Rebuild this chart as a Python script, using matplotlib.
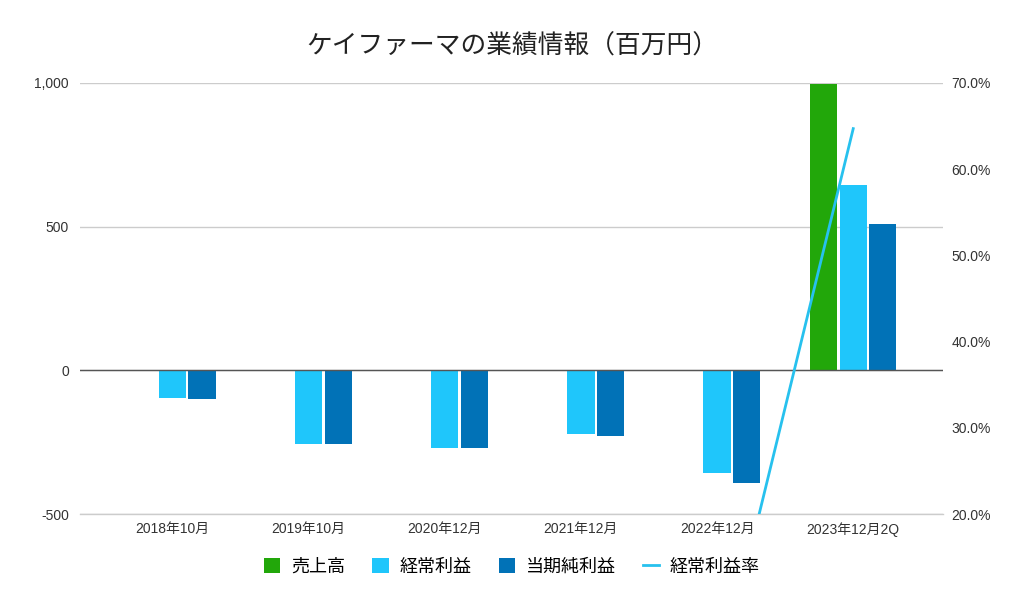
import numpy as np
import matplotlib
matplotlib.use("Agg")
import matplotlib.pyplot as plt
from matplotlib.ticker import FuncFormatter, PercentFormatter

plt.rcParams['font.family'] = ['Liberation Sans', 'Noto Sans CJK JP', 'DejaVu Sans']

periods = ['2018年10月', '2019年10月', '2020年12月', '2021年12月', '2022年12月', '2023年12月2Q']
sales = [0, 0, 0, 0, 0, 997]
ordinary = [-95, -255, -270, -220, -356, 645]
net = [-100, -255, -270, -230, -392, 509]
margin = [0, 0, 0, 0, 0, 64.7]

c_sales = '#22a70a'
c_ord = '#1fc6fb'
c_net = '#0172b7'

fig = plt.figure(figsize=(10.24, 6.08), dpi=100)
ax = fig.add_axes([0.078, 0.1546, 0.843, 0.709])
x = np.arange(len(periods))
w = 0.2
step = 0.217

ax.bar(x - step, sales, w, color=c_sales, label='売上高', zorder=3)
ax.bar(x, ordinary, w, color=c_ord, label='経常利益', zorder=3)
ax.bar(x + step, net, w, color=c_net, label='当期純利益', zorder=3)
ax.axhline(0, color='#555555', lw=1, zorder=4)
# bottom gridline sits on the axes edge, keep it from being clipped
ax.axhline(-500, color='#cccccc', lw=1, zorder=0, clip_on=False)

ax.set_ylim(-500, 1000)
ax.set_yticks([-500, 0, 500, 1000])
ax.yaxis.set_major_formatter(FuncFormatter(lambda v, p: '{:,.0f}'.format(v)))
ax.set_xlim(-0.68, 5.66)
ax.set_xticks(x)
ax.set_xticklabels(periods)
ax.grid(axis='y', color='#cccccc', lw=1, zorder=0)
for s in ax.spines.values():
    s.set_visible(False)
ax.tick_params(length=0, labelsize=10, colors='#333333', pad=8)
ax.tick_params(axis='x', pad=6)

ax2 = ax.twinx()
ax2.plot(x, margin, color='#27c1ee', lw=2, label='経常利益率', zorder=5)
ax2.set_ylim(20, 70)
ax2.set_yticks([20, 30, 40, 50, 60, 70])
ax2.yaxis.set_major_formatter(PercentFormatter(decimals=1))
for s in ax2.spines.values():
    s.set_visible(False)
ax2.tick_params(length=0, labelsize=10, colors='#333333', pad=6)

fig.suptitle('ケイファーマの業績情報（百万円）', x=0.5, y=0.945, fontsize=18.5,
             color='#222222', family=['Noto Sans CJK JP', 'DejaVu Sans'])

h1, l1 = ax.get_legend_handles_labels()
h2, l2 = ax2.get_legend_handles_labels()
leg = fig.legend(h1 + h2, l1 + l2, loc='center', bbox_to_anchor=(0.5, 0.068), ncol=4,
                 frameon=False, handlelength=0.9, handleheight=0.9,
                 handletextpad=0.6, columnspacing=1.5,
                 prop={'family': 'Noto Sans CJK JP', 'size': 13})

fig.savefig('out.png', dpi=100, facecolor='white')
